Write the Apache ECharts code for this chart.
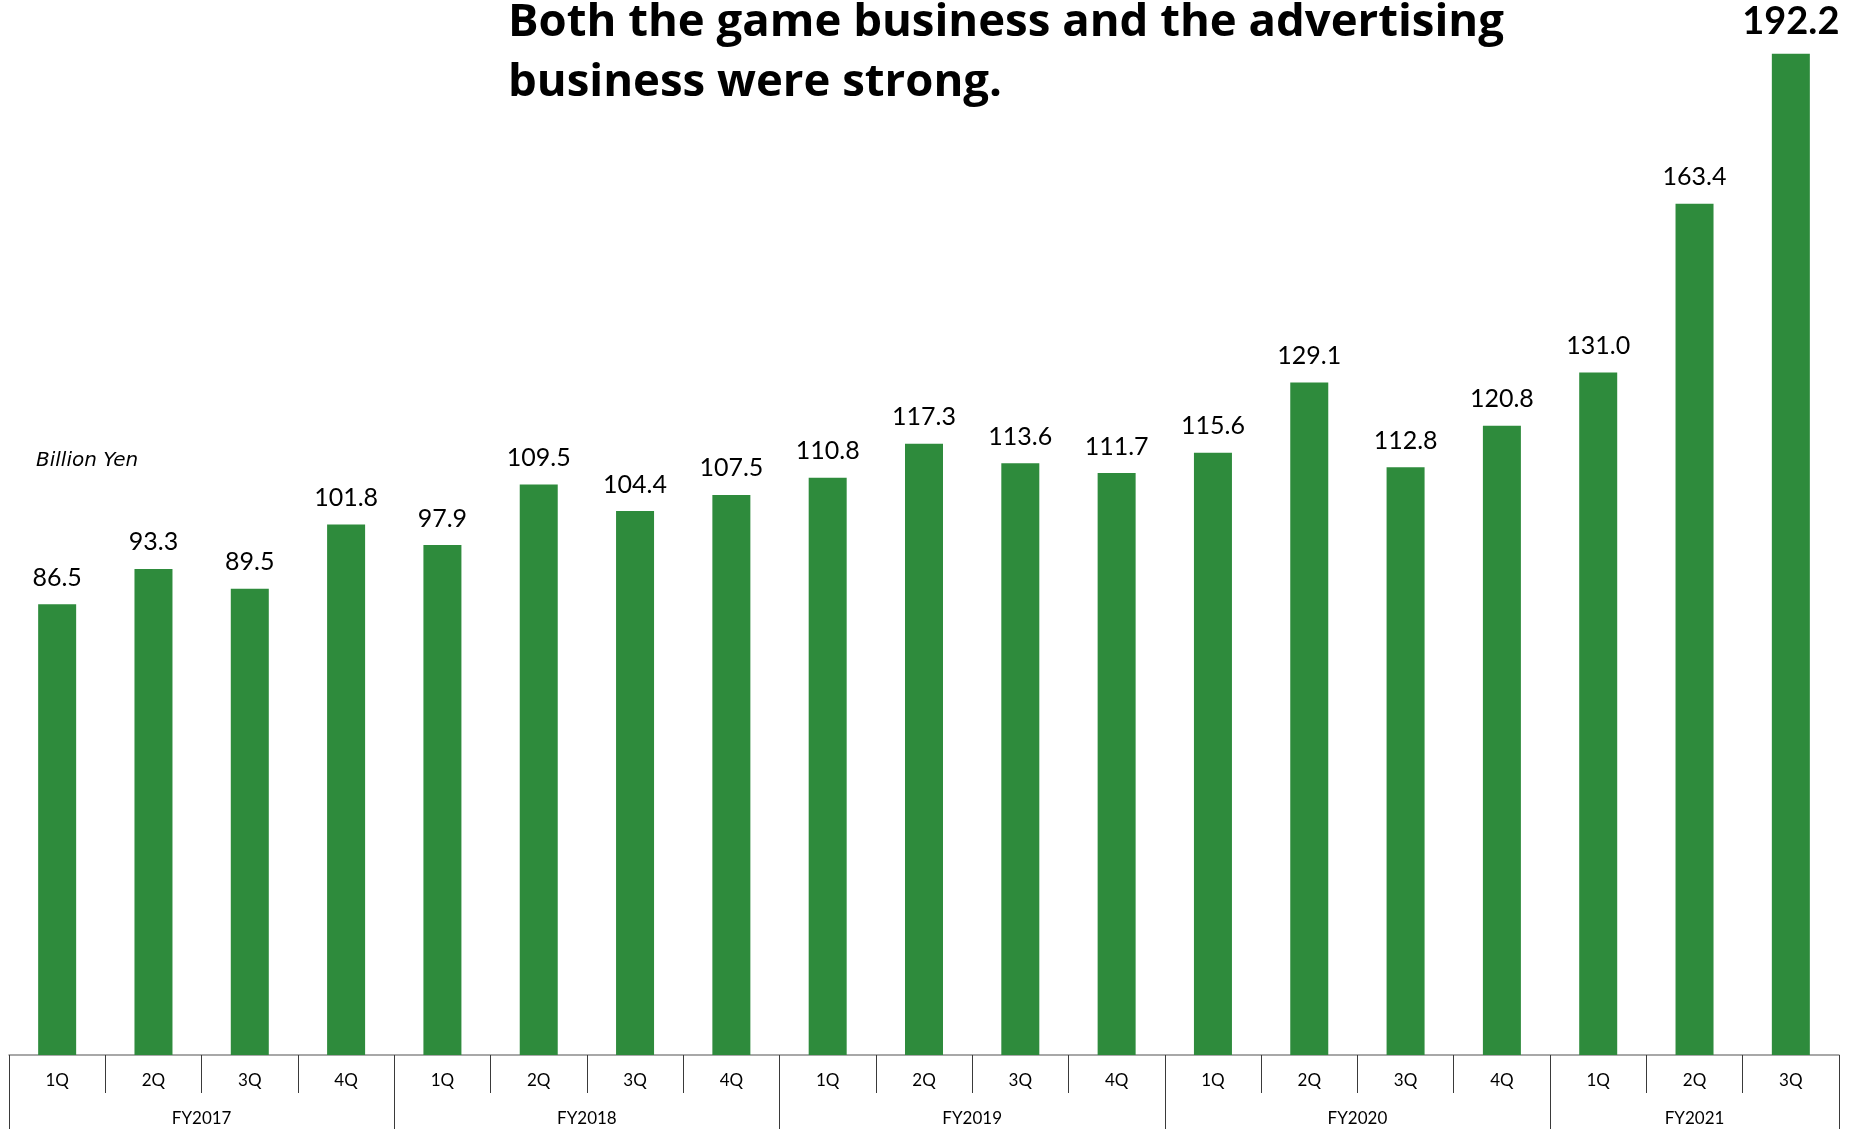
<!DOCTYPE html>
<html>
<head>
<meta charset="utf-8">
<title>Quarterly revenue</title>
<script src="https://cdn.jsdelivr.net/npm/echarts@6/dist/echarts.min.js"></script>
<style>
  html, body { margin: 0; padding: 0; background: #ffffff; }
  #chart { width: 1858px; height: 1129px; }
</style>
</head>
<body>
<div id="chart"></div>
<script>
// Quarterly revenue, billion yen
const fiscalYears = ['FY2017', 'FY2018', 'FY2019', 'FY2020', 'FY2021'];
const quartersPerYear = [4, 4, 4, 4, 3];
const quarterLabels = [
  '1Q', '2Q', '3Q', '4Q',
  '1Q', '2Q', '3Q', '4Q',
  '1Q', '2Q', '3Q', '4Q',
  '1Q', '2Q', '3Q', '4Q',
  '1Q', '2Q', '3Q'
];
const revenue = [
  86.5, 93.3, 89.5, 101.8,
  97.9, 109.5, 104.4, 107.5,
  110.8, 117.3, 113.6, 111.7,
  115.6, 129.1, 112.8, 120.8,
  131.0, 163.4, 192.2
];
const headline = 'Both the game business and the advertising\nbusiness were strong.';
const unitLabel = 'Billion Yen';

// Year group boundaries and centres on the quarter index scale
const yearEdges = [0];
quartersPerYear.forEach(n => yearEdges.push(yearEdges[yearEdges.length - 1] + n));
const yearCenters = fiscalYears.map((_, i) => (yearEdges[i] + yearEdges[i + 1]) / 2);

const GREEN = '#2e8b3c';
const BASE_FONT = 'Lato, "Noto Sans", sans-serif';

const barData = revenue.map((v, i) => {
  const latest = i === revenue.length - 1;
  return latest
    ? { value: v, label: { fontSize: 38, fontWeight: 'bold', distance: 13 } }
    : v;
});

const chart = echarts.init(document.getElementById('chart'), null, { renderer: 'canvas' });

chart.setOption({
  backgroundColor: '#ffffff',
  animation: false,
  title: {
    text: headline,
    left: 508,
    top: -7,
    padding: 0,
    textStyle: {
      fontFamily: '"Open Sans", Lato, sans-serif',
      fontWeight: 'bold',
      fontSize: 45.5,
      lineHeight: 60,
      color: '#000000'
    }
  },
  graphic: [{
    type: 'text',
    left: 36,
    top: 451,
    style: {
      text: unitLabel,
      font: 'italic 20px "DejaVu Sans", sans-serif',
      fill: '#000000'
    }
  }],
  grid: { left: 9, right: 19, top: 13, bottom: 74, containLabel: false },
  xAxis: [{
    type: 'category',
    data: quarterLabels,
    boundaryGap: true,
    axisLine: { show: true, lineStyle: { color: '#8c8c8c', width: 1.5 } },
    axisTick: { show: true, interval: 0, length: 38, lineStyle: { color: '#3a3a3a', width: 1 } },
    axisLabel: {
      interval: 0, margin: 17,
      fontFamily: BASE_FONT, fontSize: 17, color: '#000000'
    },
    splitLine: { show: false }
  }, {
    type: 'value',
    min: 0,
    max: yearEdges[yearEdges.length - 1],
    position: 'bottom',
    offset: 38,
    axisLine: { show: false },
    splitLine: { show: false },
    axisTick: {
      show: true, length: 36,
      customValues: yearEdges,
      lineStyle: { color: '#3a3a3a', width: 1 }
    },
    axisLabel: {
      show: true, margin: 17,
      customValues: yearCenters,
      formatter: v => {
        const idx = yearCenters.findIndex(c => Math.abs(c - v) < 1e-6);
        return idx >= 0 ? fiscalYears[idx] : '';
      },
      fontFamily: BASE_FONT, fontSize: 17, color: '#000000'
    }
  }],
  yAxis: {
    type: 'value',
    min: 0,
    max: 200,
    show: false,
    splitLine: { show: false }
  },
  series: [{
    type: 'bar',
    xAxisIndex: 0,
    data: barData,
    barWidth: 38,
    itemStyle: { color: GREEN },
    label: {
      show: true,
      position: 'top',
      distance: 14,
      fontFamily: BASE_FONT,
      fontSize: 25,
      color: '#000000',
      formatter: p => Number(p.value).toFixed(1)
    }
  }]
});
</script>
</body>
</html>
